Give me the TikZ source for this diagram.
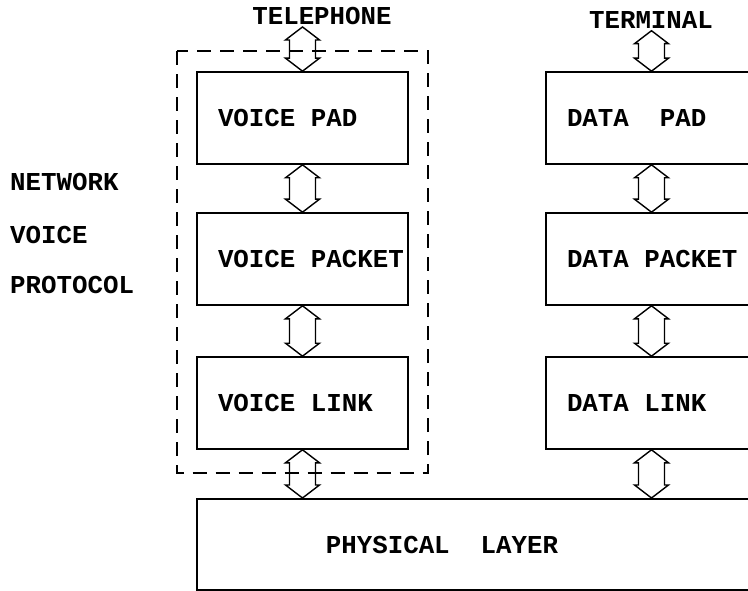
\documentclass[tikz,border=0pt]{standalone}
\usepackage{fontspec}
\setmonofont{Liberation Mono}
\usetikzlibrary{calc}

\begin{document}
\begin{tikzpicture}[x=1pt, y=-1pt,
	font=\ttfamily\bfseries\fontsize{25.8pt}{30pt}\selectfont,
	layer/.style={draw, line width=1.6pt, minimum width=211pt, minimum height=92pt,
		inner xsep=21pt, inner ysep=0pt,
		execute at begin node=\hbox to 169pt\bgroup,
		execute at end node=\hss\egroup},
	endtext/.style={inner sep=2pt},
	sidetext/.style={anchor=west, inner sep=0pt},
	duplex/.style={draw, line width=1.4pt, line join=miter},
	group/.style={draw, line width=2pt, dash pattern=on 14pt off 9pt}
]

\def\width{748}
\def\height{591}
\def\vx{302.5}
\def\dx{651.5}

\path [use as bounding box] (0,0) rectangle (\width,\height);

% VOICE STACK
\node [layer] (vpad) at (\vx,118) {VOICE PAD};
\node [layer] (vpacket) at (\vx,259) {VOICE PACKET};
\node [layer] (vlink) at (\vx,403) {VOICE LINK};

% DATA STACK
\node [layer] (dpad) at (\dx,118) {DATA~~PAD};
\node [layer] (dpacket) at (\dx,259) {DATA PACKET};
\node [layer] (dlink) at (\dx,403) {DATA LINK};

% PHYSICAL LAYER
\node [draw, line width=1.6pt, anchor=north west, minimum width=620pt, minimum height=91pt] (phys) at (196,498) {};
\node (physname) at (442,545) {PHYSICAL~~LAYER};

% END POINTS
\node [endtext] (phone) at (322,16) {TELEPHONE};
\node [endtext] (term) at (651,20) {TERMINAL};

% SIDE LABELS
\node [sidetext] (net) at (10,182) {NETWORK};
\node [sidetext] (voice) at (10,235) {VOICE};
\node [sidetext] (proto) at (10,285) {PROTOCOL};

% DASHED GROUP
\draw [group] ($(vpad.north west)+(-19,-20)$) rectangle ($(vlink.south east)+(19,23)$);

% Function: duplex arrow
% #1 : upper end
% #2 : lower end
\newcommand{\duplexarrow}[2]{%
	\draw [duplex] let \p1=(#1), \p2=(#2), \n1={\y1-(\y2)-26pt} in
		(\p1) -- ++(-17pt,-13pt) -- ++(4pt,0pt) -- ++(0pt,{-\n1}) -- ++(-4pt,0pt)
		-- (\p2) -- ++(17pt,13pt) -- ++(-4pt,0pt) -- ++(0pt,{\n1}) -- ++(4pt,0pt) -- cycle%
}

% ARROWS
\duplexarrow{vpad.north |- phone.south}{vpad.north};
\duplexarrow{vpad.south}{vpacket.north};
\duplexarrow{vpacket.south}{vlink.north};
\duplexarrow{vlink.south}{vlink.south |- phys.north};

\duplexarrow{dpad.north |- term.south}{dpad.north};
\duplexarrow{dpad.south}{dpacket.north};
\duplexarrow{dpacket.south}{dlink.north};
\duplexarrow{dlink.south}{dlink.south |- phys.north};

\end{tikzpicture}
\end{document}
